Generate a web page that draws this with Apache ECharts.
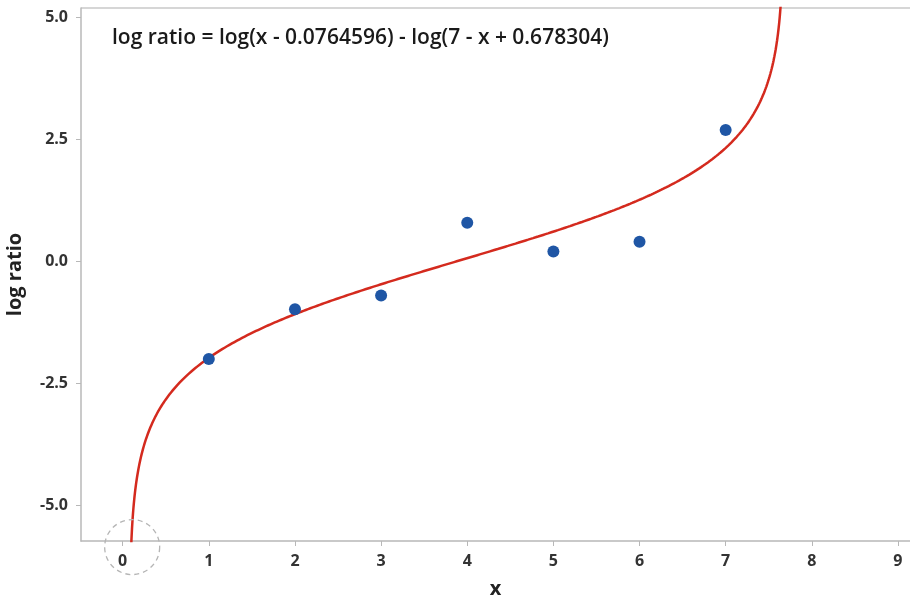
<!DOCTYPE html>
<html>
<head>
<meta charset="utf-8">
<script src="https://cdn.jsdelivr.net/npm/echarts@6/dist/echarts.min.js"></script>
<style>html,body{margin:0;padding:0;background:#fff}#c{width:910px;height:596px}</style>
</head>
<body>
<div id="c"></div>
<script>
// Observed data
const xValues = [1, 2, 3, 4, 5, 6, 7];
const logRatio = [-2.0, -0.98, -0.70, 0.79, 0.20, 0.40, 2.69];
// Fitted model printed on the chart: log ratio = log(x - a) - log(7 - x + b)
const fitA = 0.0764596;
const fitB = 0.678304;
const fitN = 7;
const equationText = 'log ratio = log(x - 0.0764596) - log(7 - x + 0.678304)';
const xTicks = [0,1,2,3,4,5,6,7,8,9];
const yTicks = [-5.0,-2.5,0.0,2.5,5.0];
// highlighted region (dashed circle) near the lower asymptote
const circleMark = [0.11, -5.855];

const xMin = -0.484, xMax = 9.14, yMin = -5.73, yMax = 5.19;

// fitted curve sampled on the displayed x range
const curve = [];
const lo = fitA + 1e-4, hi = fitN + fitB - 1e-4;
for (let i = 0; i <= 1200; i++) {
  const t = i / 1200;
  const s = 0.5 - 0.5 * Math.cos(Math.PI * t);
  const x = lo + (hi - lo) * s;
  const y = Math.log(x - fitA) - Math.log(fitN - x + fitB);
  curve.push([x, y]);
}

const FONT = '"Open Sans", "Noto Sans", sans-serif';
const chart = echarts.init(document.getElementById('c'));
chart.setOption({
  animation: false,
  grid: {left: 81, right: 0, top: 8, bottom: 55, containLabel: false, outerBoundsMode: 'none'},
  xAxis: {
    type: 'value', min: xMin, max: xMax,
    name: 'x', nameLocation: 'middle', nameGap: 38,
    nameTextStyle: {fontFamily: FONT, fontSize: 20, fontWeight: 'bold', color: '#222'},
    axisLine: {show: true, onZero: false, lineStyle: {color: '#b8b8b8', width: 1.5}},
    axisTick: {show: true, length: 5, lineStyle: {color: '#b8b8b8'}, customValues: xTicks},
    axisLabel: {fontFamily: FONT, fontSize: 16, fontWeight: 'bold', color: '#333', margin: 12, customValues: xTicks,
      formatter: v => String(v)},
    splitLine: {show: false}
  },
  yAxis: {
    type: 'value', min: yMin, max: yMax,
    name: 'log ratio', nameLocation: 'middle', nameGap: 56,
    nameTextStyle: {fontFamily: FONT, fontSize: 20, fontWeight: 'bold', color: '#222'},
    axisLine: {show: true, onZero: false, lineStyle: {color: '#b8b8b8', width: 1.5}},
    axisTick: {show: true, length: 5, lineStyle: {color: '#b8b8b8'}, customValues: yTicks},
    axisLabel: {fontFamily: FONT, fontSize: 16, fontWeight: 'bold', color: '#333', margin: 13, customValues: yTicks,
      formatter: v => v.toFixed(1)},
    splitLine: {show: false}
  },
  graphic: [
    {type: 'line', shape: {x1: 81, y1: 8, x2: 910, y2: 8}, style: {stroke: '#c8c8c8', lineWidth: 1.5}, silent: true},
    {type: 'text', left: 112, top: 28, style: {text: equationText, fontFamily: FONT, fontSize: 21, fontWeight: 600, fill: '#1a1a1a'}}
  ],
  series: [
    {
      type: 'line', data: curve, showSymbol: false, smooth: false,
      lineStyle: {color: '#d42a1e', width: 2.5}, silent: true, z: 3
    },
    {
      type: 'scatter', data: xValues.map((x, i) => [x, logRatio[i]]),
      symbol: 'circle', symbolSize: 12, itemStyle: {color: '#1f56a5', opacity: 1}, z: 4
    },
    {
      type: 'scatter', data: [circleMark], clip: false, silent: true,
      symbol: 'circle', symbolSize: 55,
      itemStyle: {color: 'rgba(0,0,0,0)', borderColor: '#b5b5b5', borderWidth: 1.3, borderType: [5, 4], opacity: 1}, z: 5
    }
  ]
});
</script>
</body>
</html>
